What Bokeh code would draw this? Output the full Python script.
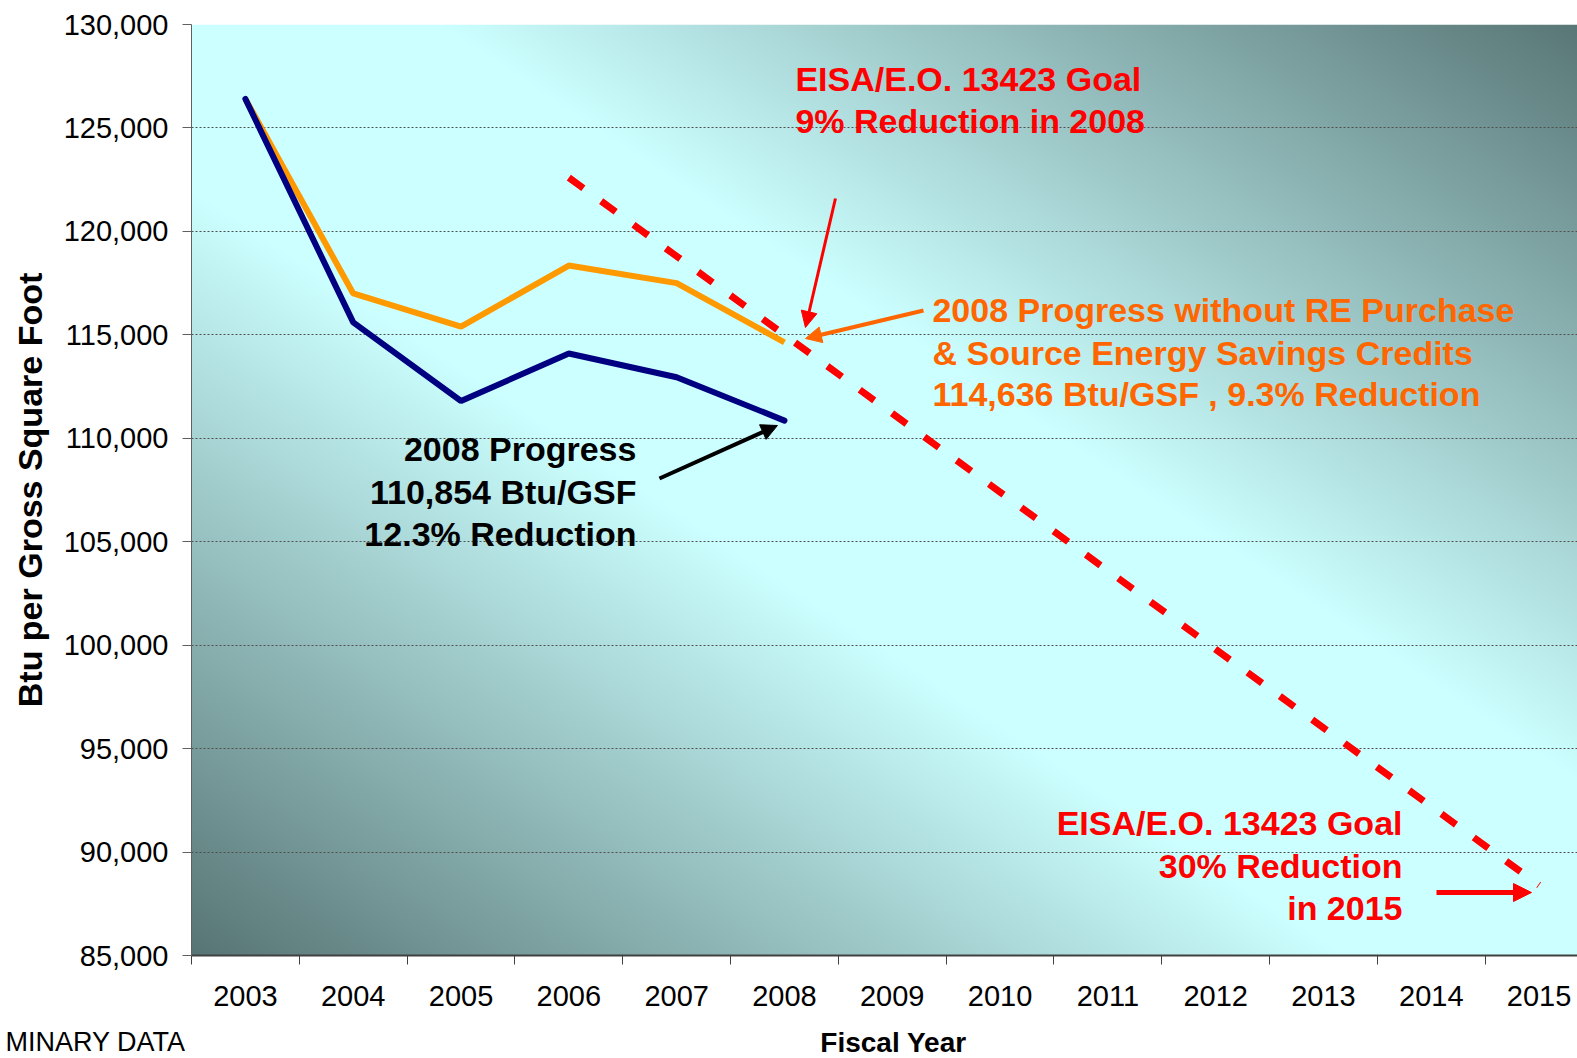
import numpy as np
from bokeh.plotting import figure
from bokeh.layouts import column
from bokeh.models import (Range1d, FixedTicker, NumeralTickFormatter, Label, Arrow, NormalHead)
from bokeh.embed import file_html
from bokeh.resources import INLINE

# ---------------- data ----------------
years = [2003, 2004, 2005, 2006, 2007, 2008]
progress = [126400, 115600, 111800, 114100, 112950, 110854]
progress_without_re = [126400, 117000, 115400, 118350, 117500, 114636]
goal_years = [2006, 2007, 2008, 2009, 2010, 2011, 2012, 2013, 2014, 2015]
goal_values = [122600, 118800, 115000, 111200, 107400, 103600, 99800, 96000, 92200, 88400]
x_tick_years = [2003, 2004, 2005, 2006, 2007, 2008, 2009, 2010, 2011, 2012, 2013, 2014, 2015]
y_ticks = [85000, 90000, 95000, 100000, 105000, 110000, 115000, 120000, 125000, 130000]

FONT = "Liberation Sans"

# pixel (page) -> data helpers for annotation placement
def dx(px):
    return 2003 + (px - 245) / 107.8

def dy(py):
    return 130000 - (py - 24) * 45000 / 931

x_lo, x_hi = 2002.5, dx(1577)
y_lo, y_hi = 85000, 130000

MAIN_H = 1023
p = figure(width=1577, height=MAIN_H,
           x_range=Range1d(x_lo, x_hi), y_range=Range1d(y_lo, y_hi),
           output_backend="svg", toolbar_location=None,
           min_border_left=191, min_border_right=0, min_border_top=24,
           min_border_bottom=MAIN_H - 955)
p.outline_line_color = None
p.background_fill_color = "white"
p.border_fill_color = "white"

# ---------------- gradient background ----------------
H, W = 466, 700
virtual_w = 13.0
xn = (np.linspace(x_lo, x_hi, W) - x_lo) / virtual_w
yn_top = 1 - np.linspace(0, 1, H)
t = np.abs(xn[None, :] - yn_top[:, None])
f = np.clip((t - 0.18) / 0.82, 0, 1)
light = np.array([204, 255, 255], dtype=float)
dark = np.array([88, 117, 117], dtype=float)
img = np.empty((H, W), dtype=np.uint32)
view = img.view(dtype=np.uint8).reshape((H, W, 4))
for c in range(3):
    view[:, :, c] = (light[c] + (dark[c] - light[c]) * f).astype(np.uint8)
view[:, :, 3] = 255
p.image_rgba(image=[img], x=x_lo, y=y_lo, dw=x_hi - x_lo, dh=y_hi - y_lo, level="image")

# ---------------- axes & grid ----------------
p.xgrid.visible = False
p.ygrid.grid_line_color = "#505050"
p.ygrid.grid_line_dash = "2 2"
p.ygrid.grid_line_width = 1

p.yaxis.ticker = FixedTicker(ticks=y_ticks)
p.yaxis.formatter = NumeralTickFormatter(format="0,0")
p.yaxis.major_label_text_font = FONT
p.yaxis.major_label_text_font_size = "29px"
p.yaxis.major_label_text_color = "black"
p.yaxis.major_tick_out = 9
p.yaxis.major_tick_in = 0
p.yaxis.minor_tick_out = 0
p.yaxis.minor_tick_in = 0
p.yaxis.major_label_standoff = 14
p.yaxis.axis_line_color = "#606060"
p.yaxis.major_tick_line_color = "#606060"
p.yaxis.axis_label = "Btu per Gross Square Foot"
p.yaxis.axis_label_text_font = FONT
p.yaxis.axis_label_text_font_style = "bold"
p.yaxis.axis_label_text_font_size = "34px"
p.yaxis.axis_label_text_color = "black"
p.yaxis.axis_label_standoff = 12

boundaries = [y - 0.5 for y in x_tick_years] + [x_tick_years[-1] + 0.5]
p.xaxis.ticker = FixedTicker(ticks=x_tick_years, minor_ticks=boundaries)
p.xaxis.major_label_text_font = FONT
p.xaxis.major_label_text_font_size = "29px"
p.xaxis.major_label_text_color = "black"
p.xaxis.major_tick_out = 0
p.xaxis.major_tick_in = 0
p.xaxis.minor_tick_out = 9
p.xaxis.minor_tick_in = 0
p.xaxis.minor_tick_line_color = "#404040"
p.xaxis.axis_line_color = "#404040"
p.xaxis.axis_line_width = 2
p.xaxis.major_label_standoff = 21

# ---------------- series ----------------
p.line(goal_years, goal_values, line_color="#FF0000", line_width=7, line_dash="18 22")
p.line(years, progress_without_re, line_color="#FF9900", line_width=6)
p.line(years, progress, line_color="#000080", line_width=6, line_cap="round")

# ---------------- arrows ----------------
def arrow(x0, y0, x1, y1, color, width, size):
    p.add_layout(Arrow(end=NormalHead(size=size, fill_color=color, line_color=color, line_width=1),
                       x_start=dx(x0), y_start=dy(y0), x_end=dx(x1), y_end=dy(y1),
                       line_color=color, line_width=width))

arrow(835, 198, 805, 327, "#FF0000", 3, 16)
arrow(923, 310, 805, 338, "#FF6600", 4, 16)
arrow(659, 478, 777, 425, "#000000", 4, 16)
arrow(1436, 892, 1531, 892, "#FF0000", 5, 18)

# ---------------- texts ----------------
def label(px, py, text, color, align, size="34px", style="bold"):
    p.add_layout(Label(x=dx(px), y=dy(py), text=text, text_font=FONT, text_font_style=style,
                       text_font_size=size, text_color=color, text_align=align,
                       text_baseline="middle"))

label(795, 78, "EISA/E.O. 13423 Goal", "#FF0000", "left")
label(795, 120, "9% Reduction in 2008", "#FF0000", "left")

label(932, 309, "2008 Progress without RE Purchase", "#FF6600", "left")
label(932, 352, "& Source Energy Savings Credits", "#FF6600", "left")
label(932, 393, "114,636 Btu/GSF , 9.3% Reduction", "#FF6600", "left")

label(636, 448, "2008 Progress", "#000000", "right")
label(636, 491, "110,854 Btu/GSF", "#000000", "right")
label(636, 533, "12.3% Reduction", "#000000", "right")

label(1402, 822, "EISA/E.O. 13423 Goal", "#FF0000", "right")
label(1402, 865, "30% Reduction", "#FF0000", "right")
label(1402, 907, "in 2015", "#FF0000", "right")

# ---------------- footer strip (axis title + cut-off note) ----------------
# the column aligns this strip's frame with the main frame (x 191..1577),
# so its x range is expressed in page pixels over that span
FOOT_H = 1058 - MAIN_H
note_tick = 17
foot = figure(width=1577, height=FOOT_H, x_range=Range1d(191, 1577), y_range=Range1d(0, FOOT_H),
              output_backend="svg", toolbar_location=None, x_axis_type=None,
              min_border_left=191, min_border_right=0, min_border_top=0, min_border_bottom=0)
foot.outline_line_color = None
foot.xgrid.visible = False
foot.ygrid.visible = False
foot.background_fill_color = "white"
foot.border_fill_color = "white"
foot.yaxis.ticker = FixedTicker(ticks=[note_tick])
foot.yaxis.major_label_overrides = {note_tick: "MINARY DATA"}
foot.yaxis.major_label_text_font = FONT
foot.yaxis.major_label_text_font_size = "27px"
foot.yaxis.major_label_text_color = "black"
foot.yaxis.major_label_standoff = 6
foot.yaxis.major_tick_out = 0
foot.yaxis.major_tick_in = 0
foot.yaxis.minor_tick_out = 0
foot.yaxis.minor_tick_in = 0
foot.yaxis.axis_line_color = None
foot.yaxis.major_tick_line_color = None
foot.add_layout(Label(x=893, y=16, text="Fiscal Year", text_font=FONT, text_font_style="bold",
                      text_font_size="28px", text_color="black", text_align="center",
                      text_baseline="middle"))

layout = column(p, foot, spacing=0)
open("out.html", "w").write(file_html(layout, INLINE))
